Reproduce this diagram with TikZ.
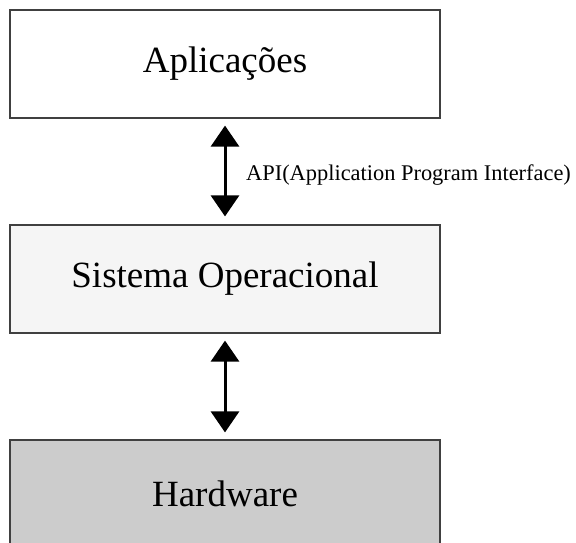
\documentclass[tikz,border=0pt]{standalone}
\usepackage{fontspec}
\setmainfont{Liberation Serif}
\usetikzlibrary{arrows.meta,positioning}

\tikzset{
  layer/.style={draw=black!75, line width=1.2pt, minimum width=430pt, minimum height=108pt,
    inner sep=0pt, font=\fontsize{37}{44}\selectfont},
  biarrow/.style={line width=3pt, {Triangle[length=21pt,width=28pt]}-{Triangle[length=21pt,width=28pt]},
    shorten <=7pt, shorten >=8pt}
}

\begin{document}
\begin{tikzpicture}[x=1pt,y=-1pt]
\useasboundingbox (0,0) rectangle (576,542);
\node[layer, fill=white] (apps) at (225,64) {Aplicações}; % Layer.apps
\node[layer, fill=black!4] (so) at (225,279) {Sistema Operacional}; % Layer.so
\node[layer, fill=black!20] (hw) at (225,494) {Hardware}; % Layer.hw
\draw[biarrow] (apps) -- (so); % Link.api
\node[anchor=base west, inner sep=0pt, font=\fontsize{22.4}{27}\selectfont] (api) at (246,180) {API(Application Program Interface)}; % Link.api
\draw[biarrow, shorten >=7pt] (so) -- (hw); % Link.hw
\end{tikzpicture}
\end{document}
